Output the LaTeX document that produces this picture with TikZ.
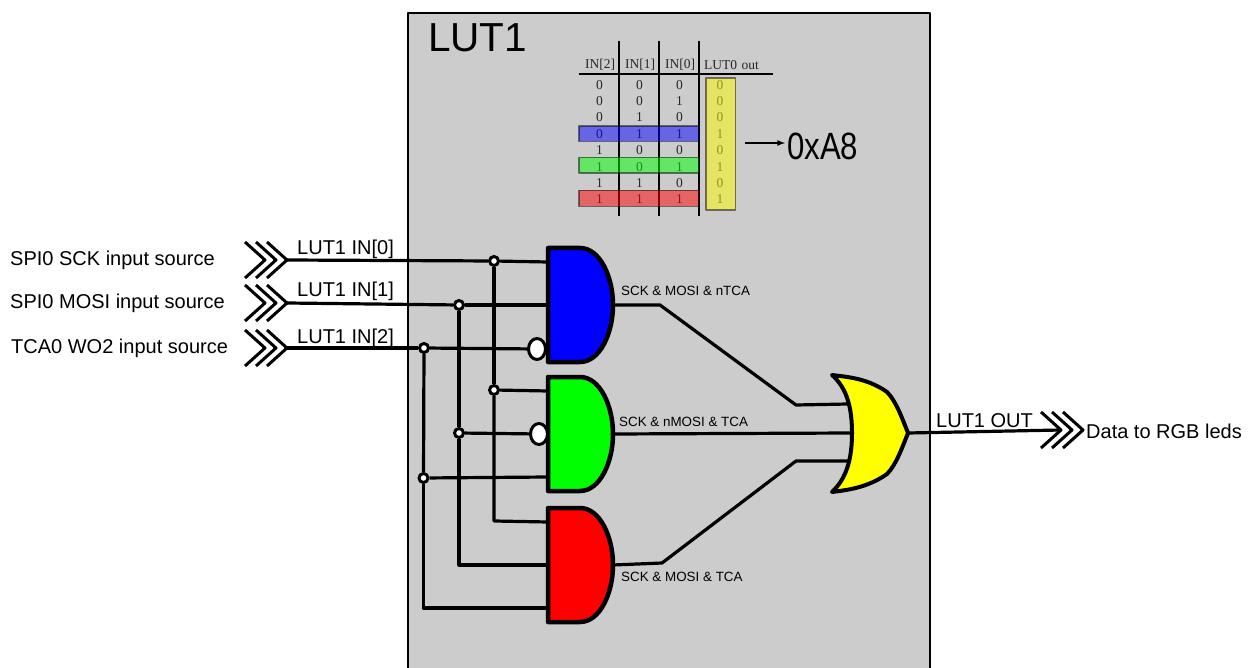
\documentclass[tikz,border=0pt]{standalone}
\usepackage{fontspec}
\usetikzlibrary{shapes.geometric}
\setmainfont{Liberation Sans}
\newfontfamily\tablefont{Liberation Serif}
\definecolor{gateyellow}{RGB}{255,255,0}
\definecolor{gategreen}{RGB}{0,255,0}
\definecolor{gateblue}{RGB}{0,0,255}
\definecolor{gatered}{RGB}{255,0,0}
\begin{document}
\begin{tikzpicture}[x=1pt,y=-1pt,line join=round,
wire/.style={line width=3.2pt},
label/.style={anchor=west,inner sep=0pt,font=\fontsize{20}{22}\selectfont},
small/.style={anchor=west,inner sep=0pt,font=\fontsize{13.4}{15}\selectfont},
cell/.style={inner sep=0pt,font=\tablefont\fontsize{13.5}{15}\selectfont,text=black!85},
rowbar/.style={draw=black,line width=1.4pt,opacity=.5},
dot/.style={circle,draw,fill=white,line width=3pt,minimum size=9pt,inner sep=0pt},
bubble/.style={ellipse,draw,fill=white,line width=3pt,minimum width=17pt,minimum height=21pt,inner sep=0pt},
andgate/.pic={\draw[line width=4.5pt,fill=#1] (0,-57) -- (32,-57) .. controls (52,-57) and (65,-28) .. (65,0) .. controls (65,28) and (52,57) .. (32,57) -- (0,57) -- cycle;
\coordinate (-a) at (0,-43); \coordinate (-b) at (0,0); \coordinate (-c) at (0,43); \coordinate (-out) at (65,0);},
orgate/.pic={\draw[line width=4pt,fill=gateyellow] (-20,-58) .. controls (-5,-56) and (15,-55) .. (35,-41) .. controls (44,-32) and (50,-15) .. (56,0) .. controls (50,15) and (44,32) .. (35,41) .. controls (15,55) and (-5,57) .. (-20,59) .. controls (-5,45) and (0,25) .. (0,0) .. controls (0,-25) and (-5,-45) .. (-20,-58) -- cycle;
\coordinate (-a) at (-4,-29); \coordinate (-b) at (0,0); \coordinate (-c) at (-4,28); \coordinate (-out) at (56,0);},
chevrons/.pic={\foreach \d in {0,11,22} \draw[line width=3pt] (-20-\d,-18) -- (-\d,0) -- (-20-\d,18);
\coordinate (-tip) at (0,0); \coordinate (-rear) at (-22,0);}]
\useasboundingbox (0,0) rectangle (1253,668);
\fill[black!20] (408,13) rectangle (930,668);
\draw[line width=2.6pt] (408,668) -- (408,13) -- (930,13) -- (930,668);
\node[anchor=west,inner sep=0pt,font=\fontsize{40.5}{44}\selectfont] (title) at (428,38) {LUT1};
% truth table
\foreach \n/\x in {2/600,1/640,0/680} \node[cell] (head\n) at (\x,65) {IN[\n]};
\node[cell] (headout) at (731.5,65) {LUT0\hspace{.35em}out};
\foreach \n/\y/\a/\b/\c/\o in {0/85/0/0/0/0,1/101.5/0/0/1/0,2/117.5/0/1/0/0,3/134/0/1/1/1,4/150/1/0/0/0,5/167/1/0/1/1,6/183/1/1/0/0,7/199/1/1/1/1}{
\node[cell] (a\n) at (599.5,\y) {\a}; \node[cell] (b\n) at (639.5,\y) {\b}; \node[cell] (c\n) at (679.5,\y) {\c}; \node[cell] (o\n) at (720,\y) {\o};}
\draw[line width=1.6pt] (579,74) -- (773,74);
\foreach \x in {619,659,699} \draw[line width=1.6pt] (\x,41) -- (\x,216);
\path[rowbar,fill=gateblue] (579,126) rectangle (699,141.5);
\path[rowbar,fill=gategreen] (579,157.5) rectangle (699,173);
\path[rowbar,fill=gatered] (579,190.5) rectangle (699,206.5);
\path[rowbar,fill=gateyellow] (706,78) rectangle (735.5,210);
\coordinate (arrowstart) at (745,143);
\node[anchor=west,inner sep=0pt,xscale=.82,font=\fontsize{38}{40}\selectfont] (hexval) at (787,146) {0xA8};
\draw[line width=1.6pt,-latex] (arrowstart) -- (785,143);
% gates
\pic (andA) at (548,305) {andgate=gateblue};
\pic (andB) at (548,434) {andgate=gategreen};
\pic (andC) at (548,565) {andgate=gatered};
\pic (orD) at (852,433) {orgate};
\pic (srcA) at (287,260) {chevrons};
\pic (srcB) at (287,303) {chevrons};
\pic (srcC) at (287,348) {chevrons};
\pic (dest) at (1083,430) {chevrons};
% junctions
\node[dot] (jA1) at (494,261) {}; \node[dot] (jA2) at (494,390) {};
\node[dot] (jB1) at (459,305) {}; \node[dot] (jB2) at (459,433) {};
\node[dot] (jC1) at (424,348) {}; \node[dot] (jC2) at (423.5,478) {};
\node[bubble] (notA) at (537,349) {};
\node[bubble] (notB) at (539,434) {};
\coordinate (bendA) at (494,521); \coordinate (bendB) at (459,565); \coordinate (bendC) at (423.5,608);
\coordinate (kneeA) at (660,305); \coordinate (kneeC) at (662,563);
\coordinate (kneeD) at (796,405); \coordinate (kneeE) at (796,461);
% wires
\draw[wire] (srcA-tip) -- (jA1); \draw[wire] (jA1) -- (andA-a);
\draw[wire] (srcB-tip) -- (jB1); \draw[wire] (jB1) -- (andA-b);
\draw[wire] (srcC-tip) -- (jC1); \draw[wire] (jC1) -- (notA);
\draw[wire] (jA1) -- (jA2); \draw[wire] (jA2) -- (bendA) -- (andC-a); \draw[wire] (jA2) -- (andB-a);
\draw[wire] (jB1) -- (jB2); \draw[wire] (jB2) -- (bendB) -- (andC-b); \draw[wire] (jB2) -- (notB);
\draw[wire] (jC1) -- (jC2); \draw[wire] (jC2) -- (bendC) -- (andC-c); \draw[wire] (jC2) -- (andB-c);
\draw[wire] (andA-out) -- (kneeA) -- (kneeD) -- (orD-a);
\draw[wire] (andB-out) -- (orD-b);
\draw[wire] (andC-out) -- (kneeC) -- (kneeE) -- (orD-c);
\draw[wire] (orD-out) -- (dest-rear);
% texts
\node[label] (nameA) at (10,260) {SPI0 SCK input source};
\node[label] (nameB) at (10,303) {SPI0 MOSI input source};
\node[label] (nameC) at (11,348) {TCA0 WO2 input source};
\node[label] (inA) at (297,249) {LUT1 IN[0]};
\node[label] (inB) at (297,291) {LUT1 IN[1]};
\node[label] (inC) at (297,338) {LUT1 IN[2]};
\node[small] (termA) at (621,291) {SCK \& MOSI \& nTCA};
\node[small] (termB) at (619,422) {SCK \& nMOSI \& TCA};
\node[small] (termC) at (621,577) {SCK \& MOSI \& TCA};
\node[label] (outname) at (936,421) {LUT1 OUT};
\node[label] (destname) at (1086,431) {Data to RGB leds};
\end{tikzpicture}
\end{document}
